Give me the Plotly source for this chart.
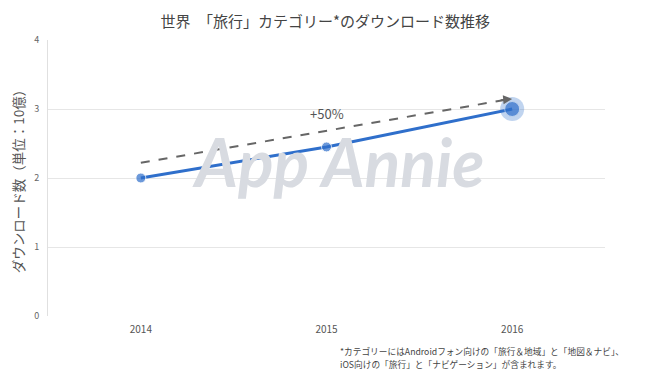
import plotly.graph_objects as go

years = ["2014", "2015", "2016"]
downloads = [2.0, 2.45, 3.0]
y_ticks = [0, 1, 2, 3, 4]
trend_start = [0, 2.22]
trend_end = [1.98, 3.14]
growth_label = "+50%"
growth_pos = [1, 2.93]

title = "世界　「旅行」カテゴリー*のダウンロード数推移"
y_title = "ダウンロード数（単位：10億）"
footnote_lines = ["*カテゴリーにはAndroidフォン向けの「旅行＆地域」と「地図＆ナビ」、",
                  "iOS向けの「旅行」と「ナビゲーション」が含まれます。"]

FONT = "Noto Sans CJK JP, Noto Sans, sans-serif"
BLUE = "#2f6fcb"

fig = go.Figure()

# watermark
fig.add_annotation(text="<b><i>App Annie</i></b>", xref="paper", yref="paper",
                   x=0.52, y=0.56, showarrow=False,
                   font=dict(family="Lato, sans-serif", size=66, color="#d8dbe1"))

# main series
fig.add_trace(go.Scatter(x=years, y=downloads, mode="lines+markers", showlegend=False,
                         line=dict(color=BLUE, width=3),
                         marker=dict(size=[10, 10, 15], color=BLUE)))
# halo on last point
fig.add_trace(go.Scatter(x=[years[-1]], y=[downloads[-1]], mode="markers", showlegend=False,
                         marker=dict(size=24, color="rgba(47,111,203,0.3)"), hoverinfo="skip"))

# trend dashed line
fig.add_shape(type="line", xref="x", yref="y",
              x0=trend_start[0], y0=trend_start[1], x1=trend_end[0], y1=trend_end[1],
              line=dict(color="#666666", width=2, dash="dash"))
fig.add_annotation(x=trend_end[0] + 0.02, y=trend_end[1] + 0.006, ax=trend_end[0] - 0.05, ay=trend_end[1] - 0.01,
                   xref="x", yref="y", axref="x", ayref="y", text="",
                   showarrow=True, arrowhead=2, arrowsize=1.2, arrowwidth=1.5, arrowcolor="#666666")

fig.add_annotation(text=growth_label, x=growth_pos[0], y=growth_pos[1], xref="x", yref="y",
                   showarrow=False, font=dict(family=FONT, size=13, color="#555555"))

for i, line in enumerate(footnote_lines):
    fig.add_annotation(text=line, xref="paper", yref="paper", x=0.52, y=-0.13 - 0.047 * i,
                       xanchor="left", yanchor="middle", align="left", showarrow=False,
                       font=dict(family=FONT, size=8.7, color="#444444"))

fig.update_layout(
    width=650, height=381,
    margin=dict(l=40, r=53, t=32, b=73),
    paper_bgcolor="white", plot_bgcolor="white",
    title=dict(text=title, x=0.488, xanchor="center", y=0.965, yanchor="middle",
               font=dict(family=FONT, size=15, color="#444444")),
    font=dict(family=FONT, color="#555555"),
    xaxis=dict(type="category", categoryorder="array", categoryarray=years,
               range=[-0.5, 2.5],
               showgrid=False, showline=False, zeroline=False, automargin=False,
               ticks="", tickfont=dict(size=10, color="#555555"), ticklabelstandoff=6),
    yaxis=dict(range=[0, 4], tickvals=y_ticks, showgrid=True, gridcolor="#e6e6e6",
               showline=True, linecolor="#e0e0e0", linewidth=1, zeroline=False,
               automargin=False,
               ticks="", tickfont=dict(size=9, color="#666666"), ticklabelstandoff=6,
               title=dict(text=y_title, font=dict(size=13.5, color="#555555"), standoff=12)),
)

fig.write_html("out.html")
